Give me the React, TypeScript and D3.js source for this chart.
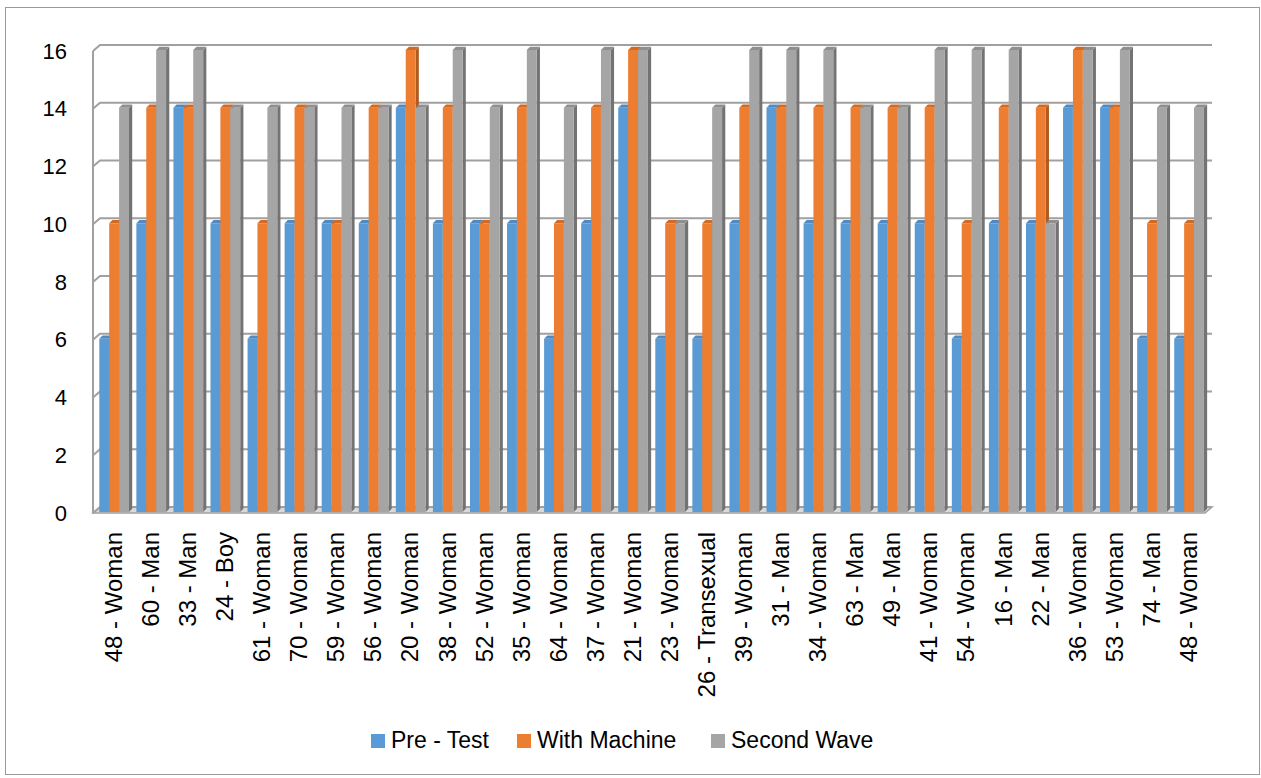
import React from "react";
import * as d3 from "d3";

const categories = [
  "48 - Woman", "60 - Man", "33 - Man", "24 - Boy", "61 - Woman", "70 - Woman",
  "59 - Woman", "56 - Woman", "20 - Woman", "38 - Woman", "52 - Woman", "35 - Woman",
  "64 - Woman", "37 - Woman", "21 - Woman", "23 - Woman", "26 - Transexual", "39 - Woman",
  "31 - Man", "34 - Woman", "63 - Man", "49 - Man", "41 - Woman", "54 - Woman",
  "16 - Man", "22 - Man", "36 - Woman", "53 - Woman", "74 - Man", "48 - Woman",
];
const preTest = [6, 10, 14, 10, 6, 10, 10, 10, 14, 10, 10, 10, 6, 10, 14, 6, 6, 10, 14, 10, 10, 10, 10, 6, 10, 10, 14, 14, 6, 6];
const withMachine = [10, 14, 14, 14, 10, 14, 10, 14, 16, 14, 10, 14, 10, 14, 16, 10, 10, 14, 14, 14, 14, 14, 14, 10, 14, 14, 16, 14, 10, 10];
const secondWave = [14, 16, 16, 14, 14, 14, 14, 14, 14, 16, 14, 16, 14, 16, 16, 10, 14, 16, 16, 16, 14, 14, 16, 16, 16, 10, 16, 16, 14, 14];
const seriesNames = ["Pre - Test", "With Machine", "Second Wave"];
const yTicks = [0, 2, 4, 6, 8, 10, 12, 14, 16];

const faceColors = [
  { front: "#5b9bd5", side: "#41719c", top: "#4f8ac2" },
  { front: "#ed7d31", side: "#ae5a21", top: "#d06a25" },
  { front: "#a5a5a5", side: "#737373", top: "#8f8f8f" },
];

export default function App() {
  const W = 1261, H = 778;
  const x0 = 93, x1 = 1205;
  const dx = 7, dy = -6;
  const x = d3.scaleBand<number>().domain(d3.range(categories.length)).range([x0, x1]).padding(0);
  const y = d3.scaleLinear().domain([0, 16]).range([513, 51]);
  const series = [preTest, withMachine, secondWave];
  const barW = 9.9, barOff = 6.3, bd = 3.2;
  const labelFont = "'Liberation Sans', Arial, sans-serif";

  const bars: React.ReactNode[] = [];
  categories.forEach((c, i) => {
    series.forEach((s, k) => {
      const v = s[i];
      const bx = (x(i) as number) + barOff + k * barW;
      const ty = y(v) - 1;
      const by = y(0) - 1;
      const col = faceColors[k];
      bars.push(
        <g key={`${i}-${k}`}>
          <polygon points={`${bx + barW},${ty} ${bx + barW + bd},${ty - bd} ${bx + barW + bd},${by - bd} ${bx + barW},${by}`} fill={col.side} />
          <polygon points={`${bx},${ty} ${bx + bd},${ty - bd} ${bx + barW + bd},${ty - bd} ${bx + barW},${ty}`} fill={col.top} />
          <rect x={bx} y={ty} width={barW} height={by - ty} fill={col.front} />
        </g>
      );
    });
  });

  return (
    <svg width={W} height={H} style={{ position: "absolute", left: 0, top: 0, background: "#fff" }}>
      <rect x={5.5} y={7.5} width={1254} height={767} fill="#fff" stroke="#9a9a9a" strokeWidth={1} />
      {/* floor */}
      <polygon points={`${x0},${y(0)} ${x1},${y(0)} ${x1 + dx},${y(0) + dy} ${x0 + dx},${y(0) + dy}`} fill="#d9d9d9" stroke="#a0a0a0" strokeWidth={1.5} />
      {/* left wall edge */}
      <line x1={x0} x2={x0} y1={y(16)} y2={y(0)} stroke="#a0a0a0" strokeWidth={2} />
      {/* gridlines */}
      {yTicks.map((t) => (
        <g key={t}>
          <polyline points={`${x0},${y(t)} ${x0 + dx},${y(t) + dy} ${x1 + dx},${y(t) + dy}`} fill="none" stroke="#a0a0a0" strokeWidth={2} />
        </g>
      ))}
      {bars}
      {/* y tick labels */}
      {yTicks.map((t) => (
        <text key={t} x={67} y={y(t)} dy="0.35em" textAnchor="end" fontFamily={labelFont} fontSize={22} fill="#000">
          {t}
        </text>
      ))}
      {/* category labels */}
      {categories.map((c, i) => {
        const cx = (x(i) as number) + x.bandwidth() / 2 + 2;
        return (
          <text key={i} transform={`translate(${cx},532) rotate(-90)`} textAnchor="end" dy="0.35em" fontFamily={labelFont} fontSize={24} fill="#000">
            {c}
          </text>
        );
      })}
      {/* legend */}
      {[371, 517, 711].map((lx, k) => (
        <g key={k}>
          <rect x={lx} y={734} width={14} height={14} fill={faceColors[k].front} />
          <text x={lx + 20} y={748} fontFamily={labelFont} fontSize={23} fill="#000">
            {seriesNames[k]}
          </text>
        </g>
      ))}
    </svg>
  );
}
